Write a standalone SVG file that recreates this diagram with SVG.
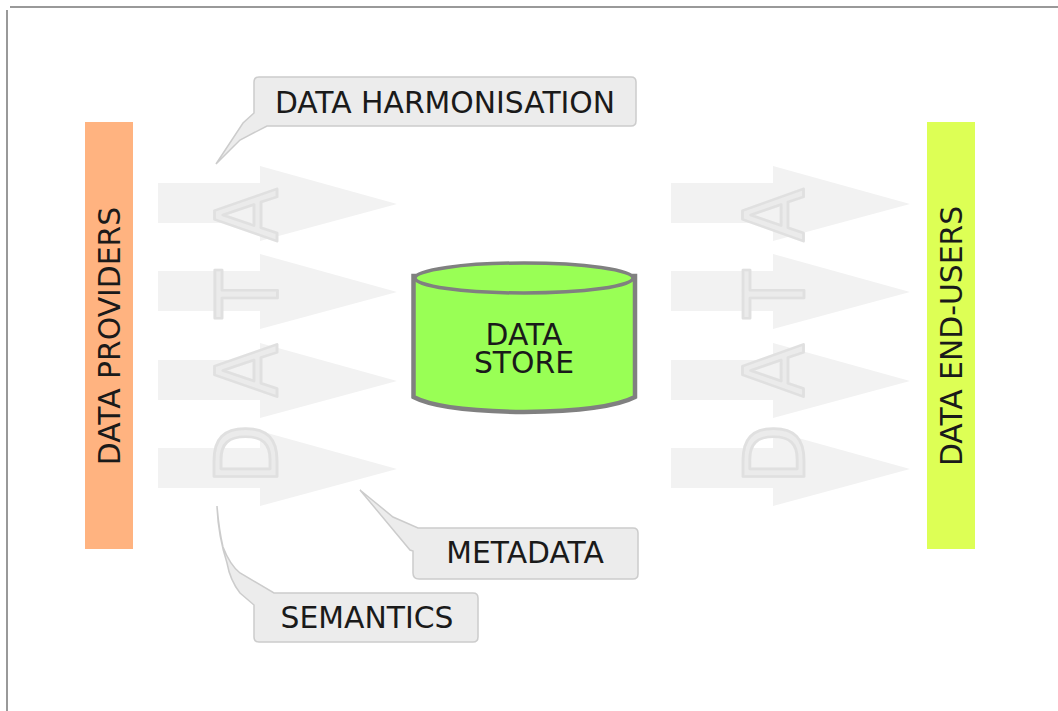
<svg xmlns="http://www.w3.org/2000/svg" xmlns:xlink="http://www.w3.org/1999/xlink" width="1058" height="711" viewBox="0 0 1058 711">
<style>
.t{font-family:"DejaVu Sans",sans-serif;fill:#1a1a1a;text-anchor:middle;font-size:29.8px}
.l{font-family:"DejaVu Sans",sans-serif;font-size:90px;fill:#ebebeb;stroke:#e0e0e0;stroke-width:3;stroke-linejoin:round;text-anchor:middle}
.call{fill:#ececec;stroke:#cccccc;stroke-width:1.5}
.ar{fill:#f2f2f2}
</style>
<defs>
<path id="arrow" d="M0 -21H102V-38L239 0L102 37V19H0Z"/>
</defs>
<rect width="1058" height="711" fill="#fff"/>
<g id="frame" fill="#999999"><rect x="10" y="6" width="1048" height="2"/><rect x="6" y="10" width="2" height="701"/></g>
<g id="connectors" class="ar">
<use xlink:href="#arrow" x="158" y="204"/>
<use xlink:href="#arrow" x="158" y="292"/>
<use xlink:href="#arrow" x="158" y="381"/>
<use xlink:href="#arrow" x="158" y="469"/>
<use xlink:href="#arrow" x="671" y="204"/>
<use xlink:href="#arrow" x="671" y="292"/>
<use xlink:href="#arrow" x="671" y="381"/>
<use xlink:href="#arrow" x="671" y="469"/>
</g>
<g id="data-left">
<text class="l" transform="translate(276.500,454) rotate(-90) scale(.87,.95)">D</text>
<text class="l" transform="translate(276.500,370.500) rotate(-90) scale(.87,.95)">A</text>
<text class="l" transform="translate(276.500,294) rotate(-90) scale(.87,.95)">T</text>
<text class="l" transform="translate(276.500,215) rotate(-90) scale(.87,.95)">A</text>
</g>
<g id="data-right">
<text class="l" transform="translate(804,454) rotate(-90) scale(.87,.93)">D</text>
<text class="l" transform="translate(804,370.500) rotate(-90) scale(.87,.93)">A</text>
<text class="l" transform="translate(804,294) rotate(-90) scale(.87,.93)">T</text>
<text class="l" transform="translate(804,215) rotate(-90) scale(.87,.93)">A</text>
</g>
<g id="providers"><rect x="85" y="122" width="48" height="427" fill="#ffb380"/>
<text class="t" transform="translate(119.500,336) rotate(-90)">DATA PROVIDERS</text></g>
<g id="end-users"><rect x="927" y="122" width="48" height="427" fill="#ddff55"/>
<text class="t" transform="translate(962,336) rotate(-90)">DATA END-USERS</text></g>
<g id="store">
<path d="M413.500 276V397Q440 411 524 412Q608 411 635 397V276Z" fill="#99ff55" stroke="#808080" stroke-width="4.500"/>
<ellipse cx="524" cy="278" rx="109" ry="15" fill="#99ff55" stroke="#808080" stroke-width="3.500"/>
<text class="t"><tspan x="524" y="345">DATA</tspan><tspan x="524" y="373">STORE</tspan></text>
</g>
<g id="harmonisation">
<path class="call" d="M259 77H631Q636 77 636 82V121Q636 126 631 126H267L240 140L230 150L216 164L243 123L254 113V82Q254 77 259 77Z"/>
<text class="t" x="445" y="113">DATA HARMONISATION</text>
</g>
<g id="metadata">
<path class="call" d="M418 528H633Q638 528 638 533V574Q638 579 633 579H419Q413 579 413 573V551L410 550L360 490L393 517Z"/>
<text class="t" x="525" y="563">METADATA</text>
</g>
<g id="semantics">
<path class="call" d="M274 593H473Q478 593 478 598V637Q478 642 473 642H259Q254 642 254 637V605L240 593Q230 580 227 563Q218 535 217 506Q219 530 223 547Q230 565 240 573Z"/>
<text class="t" x="367" y="628">SEMANTICS</text>
</g>
</svg>
